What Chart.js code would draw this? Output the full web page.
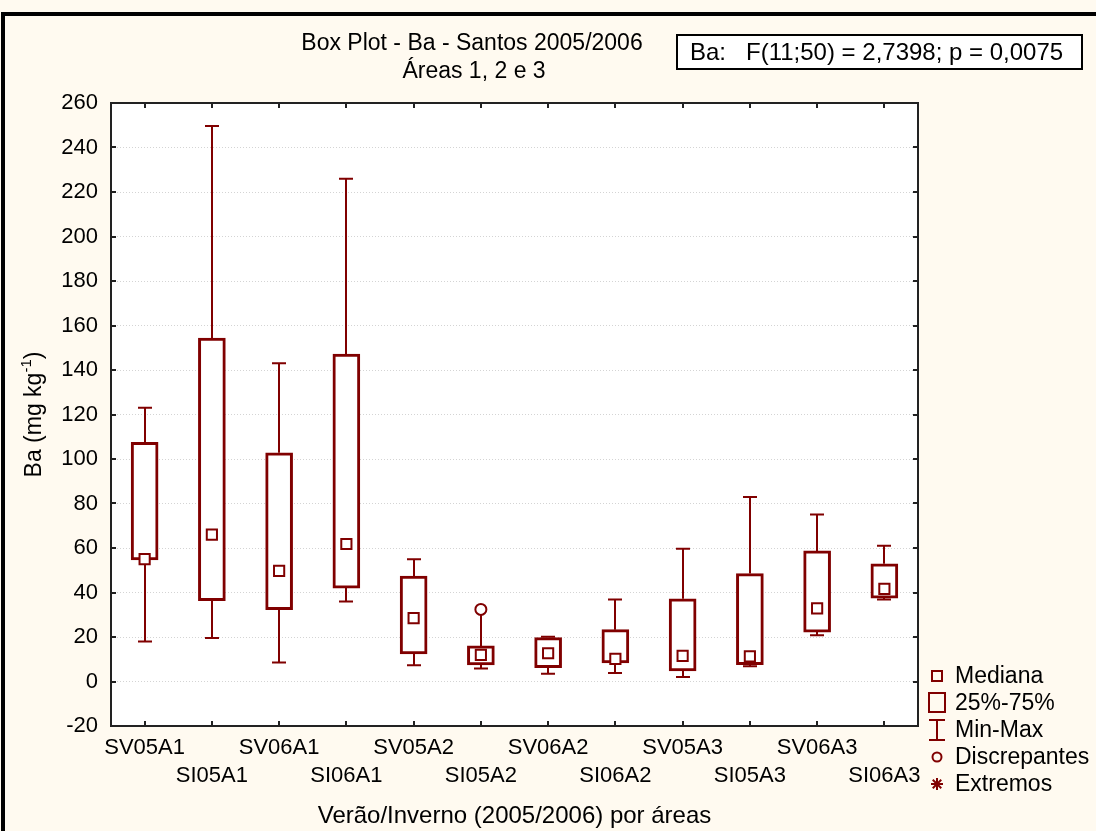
<!DOCTYPE html>
<html>
<head>
<meta charset="utf-8">
<script src="https://cdn.jsdelivr.net/npm/chart.js@4.4.0/dist/chart.umd.min.js"></script>
<style>
  html, body { margin: 0; padding: 0; background: #fffaf0; }
  #wrap { position: relative; width: 1096px; height: 831px; overflow: hidden; }
  #chart { position: absolute; left: 0; top: 0; }
  #frame { position: absolute; left: 1px; top: 12px; width: 1200px; height: 900px;
           border-left: 4px solid #000; border-top: 4px solid #000; }
</style>
</head>
<body>
<div id="wrap">
  <canvas id="chart" width="1096" height="831"></canvas>
  <div id="frame"></div>
</div>
<script>
// categorias (eixo x)
const categories = ["SV05A1", "SI05A1", "SV06A1", "SI06A1", "SV05A2", "SI05A2",
                    "SV06A2", "SI06A2", "SV05A3", "SI05A3", "SV06A3", "SI06A3"];

// valores (mg/kg)
const minVals    = [18, 19.5, 8.5, 36, 7.3, 5.8, 3.5, 3.8, 2, 6.8, 20.8, 36.8];
const q1Vals     = [54.6, 36.3, 32.3, 42, 12.4, 7.4, 6.2, 8.3, 4.7, 7.6, 22.2, 37.5];
const medianVals = [55, 66, 49.7, 61.8, 28.5, 12, 12.7, 10.2, 11.5, 11.3, 32.9, 41.6];
const q3Vals     = [107.5, 154.4, 102.8, 147.2, 47.4, 16, 19.7, 23.3, 37.2, 48.5, 58.7, 52.9];
const maxVals    = [123, 249.7, 143, 226, 54.9, 32.4, 20.1, 36.9, 59.7, 82.9, 75.1, 61];
const outlierVals = [null, null, null, null, null, 32.4, null, null, null, null, null, null];

// eixo y
const yMin = -20;
const yMax = 260;
const yStep = 20;

const legendItems = ["Mediana", "25%-75%", "Min-Max", "Discrepantes", "Extremos"];

const MAROON = "#800000";
const FONT = '"Liberation Sans", Arial, sans-serif';

const boxPlugin = {
  id: "boxExtras",
  beforeDraw(chart) {
    const { ctx, chartArea: a } = chart;
    ctx.save();
    ctx.fillStyle = "#ffffff";
    ctx.fillRect(a.left, a.top, a.right - a.left, a.bottom - a.top);
    ctx.restore();
  },
  beforeDatasetsDraw(chart) {
    // bigodes (min-max)
    const { ctx, scales: { x, y } } = chart;
    ctx.save();
    ctx.strokeStyle = MAROON;
    ctx.lineWidth = 2;
    categories.forEach((c, i) => {
      const px = Math.round(x.getPixelForValue(i));
      const yTop = y.getPixelForValue(maxVals[i]);
      const yBot = y.getPixelForValue(minVals[i]);
      ctx.beginPath();
      ctx.moveTo(px, y.getPixelForValue(q3Vals[i]));
      ctx.lineTo(px, yTop);
      ctx.moveTo(px, y.getPixelForValue(q1Vals[i]));
      ctx.lineTo(px, yBot);
      if (outlierVals[i] === null) {
        ctx.moveTo(px - 7, yTop);
        ctx.lineTo(px + 7, yTop);
      }
      ctx.moveTo(px - 7, yBot);
      ctx.lineTo(px + 7, yBot);
      ctx.stroke();
    });
    ctx.restore();
  },
  afterDraw(chart) {
    const { ctx, chartArea: a, scales: { x, y } } = chart;
    ctx.save();

    // moldura da área do gráfico + marcas internas
    ctx.strokeStyle = "#222";
    ctx.lineWidth = 2;
    ctx.strokeRect(a.left, a.top, a.right - a.left, a.bottom - a.top);
    ctx.beginPath();
    y.ticks.forEach((t, i) => {
      const py = Math.round(y.getPixelForTick(i));
      ctx.moveTo(a.left, py); ctx.lineTo(a.left + 5, py);
      ctx.moveTo(a.right - 5, py); ctx.lineTo(a.right, py);
    });
    x.ticks.forEach((t, i) => {
      const px = Math.round(x.getPixelForTick(i));
      ctx.moveTo(px, a.top); ctx.lineTo(px, a.top + 5);
      ctx.moveTo(px, a.bottom - 5); ctx.lineTo(px, a.bottom);
    });
    ctx.stroke();

    // título
    ctx.fillStyle = "#000";
    ctx.font = "23px " + FONT;
    ctx.textAlign = "center";
    ctx.textBaseline = "middle";
    ctx.fillText("Box Plot - Ba - Santos 2005/2006", 472, 44);
    ctx.fillText("Áreas 1, 2 e 3", 474, 72);

    // caixa com a estatística F
    ctx.fillStyle = "#fff";
    ctx.fillRect(677, 35, 405, 34);
    ctx.strokeStyle = "#000";
    ctx.lineWidth = 2;
    ctx.strokeRect(677, 35, 405, 34);
    ctx.fillStyle = "#000";
    ctx.textAlign = "left";
    ctx.font = "24px " + FONT;
    ctx.fillText("Ba:   F(11;50) = 2,7398; p = 0,0075", 690, 53);

    // título do eixo y com expoente
    ctx.save();
    ctx.translate(35, (a.top + a.bottom) / 2);
    ctx.rotate(-Math.PI / 2);
    const t1 = "Ba (mg kg";
    const t2 = "-1";
    const t3 = ")";
    ctx.font = "23px " + FONT;
    const w1 = ctx.measureText(t1).width;
    const w3 = ctx.measureText(t3).width;
    ctx.font = "15px " + FONT;
    const w2 = ctx.measureText(t2).width;
    const sx = -(w1 + w2 + w3) / 2;
    ctx.textAlign = "left";
    ctx.font = "23px " + FONT;
    ctx.fillText(t1, sx, 0);
    ctx.font = "15px " + FONT;
    ctx.fillText(t2, sx + w1, -8);
    ctx.font = "23px " + FONT;
    ctx.fillText(t3, sx + w1 + w2, 0);
    ctx.restore();

    // legenda
    const lx = 937;
    const rows = [676, 703, 730, 757, 784];
    ctx.strokeStyle = MAROON;
    ctx.lineWidth = 2;
    ctx.strokeRect(lx - 5, rows[0] - 5, 10, 10);
    ctx.strokeRect(lx - 8, rows[1] - 10, 16, 19);
    ctx.beginPath();
    ctx.moveTo(lx - 8, rows[2] - 10); ctx.lineTo(lx + 8, rows[2] - 10);
    ctx.moveTo(lx, rows[2] - 10); ctx.lineTo(lx, rows[2] + 10);
    ctx.moveTo(lx - 8, rows[2] + 10); ctx.lineTo(lx + 8, rows[2] + 10);
    ctx.stroke();
    ctx.beginPath();
    ctx.arc(lx, rows[3], 4.5, 0, Math.PI * 2);
    ctx.stroke();
    ctx.beginPath();
    for (let k = 0; k < 4; k++) {
      const ang = k * Math.PI / 4;
      ctx.moveTo(lx - 6 * Math.cos(ang), rows[4] - 6 * Math.sin(ang));
      ctx.lineTo(lx + 6 * Math.cos(ang), rows[4] + 6 * Math.sin(ang));
    }
    ctx.stroke();
    ctx.fillStyle = "#000";
    ctx.font = "23px " + FONT;
    ctx.textAlign = "left";
    ctx.textBaseline = "middle";
    legendItems.forEach((txt, i) => ctx.fillText(txt, 955, rows[i] + 1));

    ctx.restore();
  }
};

new Chart(document.getElementById("chart"), {
  type: "bar",
  data: {
    labels: categories,
    datasets: [
      {
        type: "line",
        label: "Discrepantes",
        data: outlierVals,
        showLine: false,
        pointStyle: "circle",
        pointRadius: 5.5,
        pointBorderWidth: 2,
        pointBackgroundColor: "#fff",
        pointBorderColor: MAROON,
        order: 0
      },
      {
        type: "line",
        label: "Mediana",
        data: medianVals,
        showLine: false,
        pointStyle: "rect",
        pointRadius: 7.2,
        pointBorderWidth: 2,
        pointBackgroundColor: "#fff",
        pointBorderColor: MAROON,
        order: 1
      },
      {
        label: "25%-75%",
        data: categories.map((c, i) => [q1Vals[i], q3Vals[i]]),
        backgroundColor: "#fff",
        borderColor: MAROON,
        borderWidth: 3,
        borderSkipped: false,
        barThickness: 27,
        order: 2
      }
    ]
  },
  options: {
    responsive: false,
    devicePixelRatio: 1,
    animation: false,
    layout: {
      padding: { left: 0, top: 103, right: 178, bottom: 0 }
    },
    plugins: {
      legend: { display: false },
      tooltip: { enabled: false },
      title: { display: false }
    },
    scales: {
      x: {
        grid: { display: false, drawTicks: false },
        border: { display: false },
        ticks: {
          autoSkip: false,
          maxRotation: 0,
          minRotation: 0,
          padding: 8,
          color: "#000",
          font: { family: FONT, size: 22, lineHeight: 1.27 },
          callback: function (value, index) {
            return index % 2 === 0 ? categories[index] : ["", categories[index]];
          }
        },
        title: {
          display: true,
          text: "Verão/Inverno (2005/2006) por áreas",
          color: "#000",
          font: { family: FONT, size: 24, lineHeight: 1.2 },
          padding: { top: 0, bottom: 0 }
        },
        afterFit: function (scale) { scale.height = 105; }
      },
      y: {
        min: yMin,
        max: yMax,
        grid: { color: "#d4d4d4", lineWidth: 1, drawTicks: false },
        border: { display: false, dash: [1, 2] },
        ticks: {
          stepSize: yStep,
          padding: 13,
          color: "#000",
          font: { family: FONT, size: 22 }
        },
        afterFit: function (scale) { scale.width = 111; }
      }
    }
  },
  plugins: [boxPlugin]
});
</script>
</body>
</html>
